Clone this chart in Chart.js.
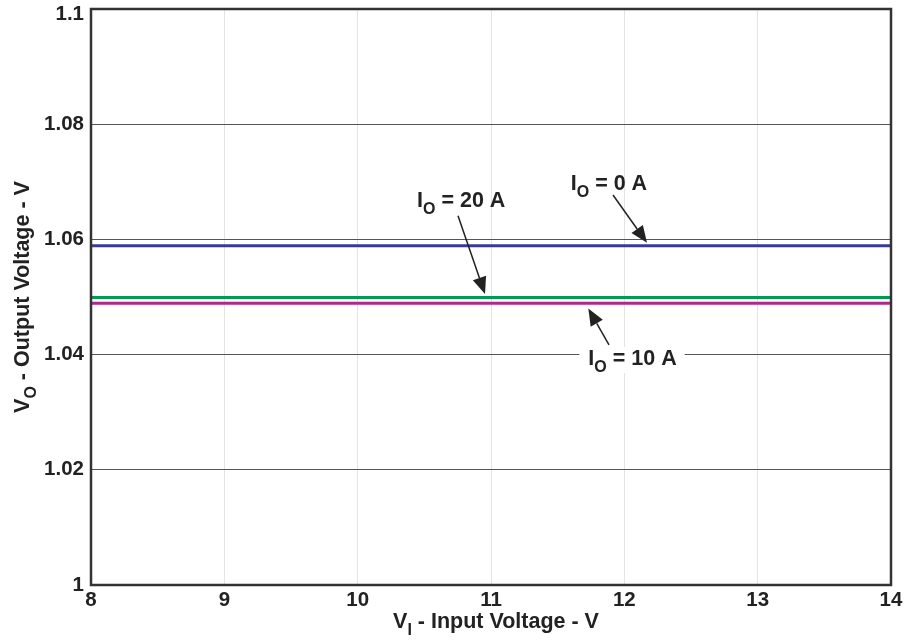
<!DOCTYPE html>
<html>
<head>
<meta charset="utf-8">
<script src="https://cdn.jsdelivr.net/npm/chart.js@4/dist/chart.umd.min.js"></script>
<style>
  html, body { margin: 0; padding: 0; background: #fff; }
  canvas { display: block; }
</style>
</head>
<body>
<canvas id="chart" width="907" height="640"></canvas>
<script>
// input voltage (V)
const inputVoltage = [8, 9, 10, 11, 12, 13, 14];
// output voltage (V) per load current
const vout0A  = [1.0589, 1.0589, 1.0589, 1.0589, 1.0589, 1.0589, 1.0589];
const vout20A = [1.0499, 1.0499, 1.0499, 1.0499, 1.0499, 1.0499, 1.0499];
const vout10A = [1.0489, 1.0489, 1.0489, 1.0489, 1.0489, 1.0489, 1.0489];

const xTicks = [8, 9, 10, 11, 12, 13, 14];
const yTicks = [1, 1.02, 1.04, 1.06, 1.08, 1.1];

// callout labels, in data units: text anchor + arrow from/to
const callouts = [
  { sub: 'O', rest: ' = 20 A', x: 10.445, y: 1.0656, from: [10.7525, 1.0641], to: [10.955, 1.0505], mask: false },
  { sub: 'O', rest: ' = 0 A',  x: 11.598, y: 1.0686, from: [11.915, 1.0677], to: [12.17, 1.0594], mask: false },
  { sub: 'O', rest: ' = 10 A', x: 11.73,  y: 1.0382, from: [11.885, 1.0417], to: [11.73, 1.0480], mask: true }
];

const FONT = '"Liberation Sans", Arial, sans-serif';
const INK = '#222';
const TICK_SIZE = 20.5;
const LABEL_SIZE = 21.5;

function pts(vals) {
  return inputVoltage.map((x, i) => ({ x: x, y: vals[i] }));
}

function drawSubText(ctx, main, sub, rest, x, y, size) {
  ctx.font = 'bold ' + size + 'px ' + FONT;
  ctx.fillText(main, x, y);
  let cx = x + ctx.measureText(main).width;
  ctx.font = 'bold ' + Math.round(size * 0.75) + 'px ' + FONT;
  ctx.fillText(sub, cx, y + size * 0.32);
  cx += ctx.measureText(sub).width;
  ctx.font = 'bold ' + size + 'px ' + FONT;
  ctx.fillText(rest, cx, y);
}

function measureSubText(ctx, main, sub, rest, size) {
  ctx.font = 'bold ' + size + 'px ' + FONT;
  let w = ctx.measureText(main).width + ctx.measureText(rest).width;
  ctx.font = 'bold ' + Math.round(size * 0.75) + 'px ' + FONT;
  return w + ctx.measureText(sub).width;
}

function arrow(ctx, x1, y1, x2, y2) {
  const ang = Math.atan2(y2 - y1, x2 - x1);
  const len = 17, half = 7;
  const bx = x2 - len * Math.cos(ang), by = y2 - len * Math.sin(ang);
  ctx.beginPath();
  ctx.moveTo(x1, y1);
  ctx.lineTo(bx, by);
  ctx.lineWidth = 1.5;
  ctx.stroke();
  ctx.beginPath();
  ctx.moveTo(x2, y2);
  ctx.lineTo(bx + half * Math.sin(ang), by - half * Math.cos(ang));
  ctx.lineTo(bx - half * Math.sin(ang), by + half * Math.cos(ang));
  ctx.closePath();
  ctx.fill();
}

const overlay = {
  id: 'overlay',
  afterDatasetsDraw(chart) {
    const { ctx, chartArea: a } = chart;
    ctx.save();
    ctx.strokeStyle = '#333';
    ctx.lineWidth = 2.5;
    ctx.strokeRect(a.left, a.top, a.right - a.left, a.bottom - a.top);
    ctx.restore();
  },
  afterDraw(chart) {
    const { ctx, chartArea: a, scales } = chart;
    const xs = scales.x, ys = scales.y;
    ctx.save();
    ctx.fillStyle = INK;
    ctx.strokeStyle = INK;

    // top y tick label sits a little below the frame edge
    ctx.font = 'bold ' + TICK_SIZE + 'px ' + FONT;
    ctx.textAlign = 'right';
    ctx.textBaseline = 'middle';
    ctx.fillText(String(yTicks[yTicks.length - 1]), a.left - 7, ys.getPixelForValue(yTicks[yTicks.length - 1]) + 5);

    ctx.textBaseline = 'alphabetic';
    ctx.textAlign = 'left';
    callouts.forEach(c => {
      const px = xs.getPixelForValue(c.x), py = ys.getPixelForValue(c.y);
      if (c.mask) {
        const w = measureSubText(ctx, 'I', c.sub, c.rest, LABEL_SIZE);
        ctx.fillStyle = '#fff';
        ctx.fillRect(px - 9, py - 18, w + 17, 26);
        ctx.fillStyle = INK;
      }
      drawSubText(ctx, 'I', c.sub, c.rest, px, py, LABEL_SIZE);
      arrow(ctx, xs.getPixelForValue(c.from[0]), ys.getPixelForValue(c.from[1]),
                 xs.getPixelForValue(c.to[0]), ys.getPixelForValue(c.to[1]));
    });

    // x axis title
    const tw = measureSubText(ctx, 'V', 'I', ' - Input Voltage - V', LABEL_SIZE);
    const cx = (a.left + a.right) / 2 + 5;
    drawSubText(ctx, 'V', 'I', ' - Input Voltage - V', cx - tw / 2, 628, LABEL_SIZE);

    // y axis title
    const th = measureSubText(ctx, 'V', 'O', ' - Output Voltage - V', LABEL_SIZE);
    ctx.translate(29, (a.top + a.bottom) / 2);
    ctx.rotate(-Math.PI / 2);
    drawSubText(ctx, 'V', 'O', ' - Output Voltage - V', -th / 2, 0, LABEL_SIZE);
    ctx.restore();
  }
};

const line = (vals, color) => ({
  data: pts(vals),
  borderColor: color,
  backgroundColor: color,
  borderWidth: 3,
  pointRadius: 0,
  tension: 0,
  fill: false
});

new Chart(document.getElementById('chart').getContext('2d'), {
  type: 'line',
  data: {
    datasets: [
      line(vout0A, '#3a3a96'),
      line(vout20A, '#009a50'),
      line(vout10A, '#b0268a')
    ]
  },
  options: {
    responsive: false,
    animation: false,
    layout: { padding: { top: 9, right: 16, left: 0, bottom: 0 } },
    plugins: { legend: { display: false }, tooltip: { enabled: false } },
    scales: {
      x: {
        type: 'linear',
        min: 8, max: 14,
        afterBuildTicks: s => { s.ticks = xTicks.map(v => ({ value: v })); },
        afterFit: s => { s.height = 55; s.paddingLeft = 0; s.paddingRight = 0; },
        ticks: { color: INK, padding: 3, font: { family: FONT, size: TICK_SIZE, weight: 'bold' }, maxRotation: 0 },
        grid: { color: '#e4e4e4', lineWidth: 1, drawTicks: false },
        border: { display: false }
      },
      y: {
        min: 1, max: 1.1,
        afterBuildTicks: s => { s.ticks = yTicks.map(v => ({ value: v })); },
        afterFit: s => { s.width = 91; s.paddingTop = 0; s.paddingBottom = 0; },
        ticks: {
          color: INK, padding: 7,
          font: { family: FONT, size: TICK_SIZE, weight: 'bold' },
          // the top label is drawn by the overlay, nudged down
          callback: v => v === yTicks[yTicks.length - 1] ? '' : String(Number(v.toFixed(2)))
        },
        grid: { color: '#555', lineWidth: 1, drawTicks: false },
        border: { display: false }
      }
    }
  },
  plugins: [overlay]
});
</script>
</body>
</html>
